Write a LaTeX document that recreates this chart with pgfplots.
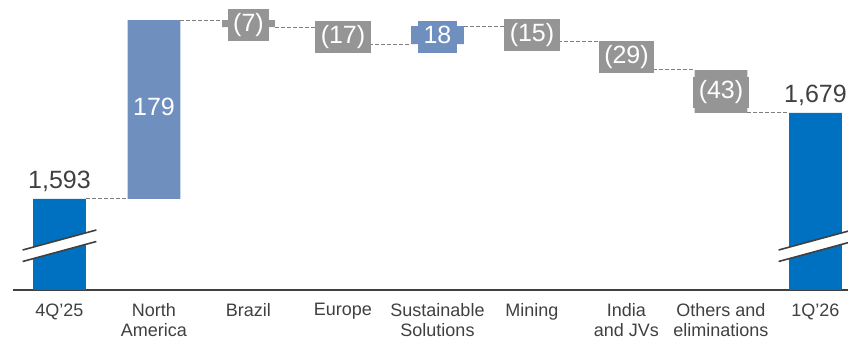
\documentclass[border=0pt]{standalone}
\usepackage{pgfplots}
\pgfplotsset{compat=1.18}
\usepackage{fontspec}
\setmainfont{Liberation Sans}
\definecolor{cBlue}{HTML}{0070C0}
\definecolor{cSteel}{HTML}{6F8FBF}
\definecolor{cGrey}{HTML}{959595}
\definecolor{cText}{HTML}{404040}
\definecolor{cDash}{HTML}{7F7F7F}
\tikzset{vl/.style={font=\fontsize{25bp}{25bp}\selectfont, text height=17.5bp, text depth=5bp, inner xsep=5.5bp, inner ysep=4.5bp},
         gbox/.style={vl, fill=cGrey, text=white},
         sbox/.style={vl, fill=cSteel, text=white}}
\begin{document}
\begin{tikzpicture}
\begin{axis}[
  scale only axis, width=835bp, height=290bp,
  xmin=-0.492, xmax=8.344, ymin=1502, ymax=1792,
  ybar stacked, bar width=0.56,
  clip=false,
  hide y axis,
  axis x line*=bottom,
  x axis line style={cText, line width=2bp},
  major tick length=0pt,
  xtick={0,1,2,3,4,5,6,7,8},
  xticklabels={4Q'25,{North\\America},Brazil,Europe,{Sustainable\\Solutions},Mining,{India\\and JVs},{Others and\\eliminations},1Q'26},
  xticklabel style={font=\fontsize{18bp}{20bp}\selectfont, text=cText, align=center, yshift=-10bp},
  after end axis/.code={
    % connectors
    \draw[cDash, line width=1bp, dash pattern=on 4bp off 2bp] (axis cs:0.28,1593) -- (axis cs:0.72,1593);
    \draw[cDash, line width=1bp, dash pattern=on 4bp off 2bp] (axis cs:1.28,1772) -- (axis cs:1.72,1772);
    \draw[cDash, line width=1bp, dash pattern=on 4bp off 2bp] (axis cs:2.28,1765) -- (axis cs:2.72,1765);
    \draw[cDash, line width=1bp, dash pattern=on 4bp off 2bp] (axis cs:3.28,1748) -- (axis cs:3.72,1748);
    \draw[cDash, line width=1bp, dash pattern=on 4bp off 2bp] (axis cs:4.28,1766) -- (axis cs:4.72,1766);
    \draw[cDash, line width=1bp, dash pattern=on 4bp off 2bp] (axis cs:5.28,1751) -- (axis cs:5.72,1751);
    \draw[cDash, line width=1bp, dash pattern=on 4bp off 2bp] (axis cs:6.28,1722) -- (axis cs:6.72,1722);
    \draw[cDash, line width=1bp, dash pattern=on 4bp off 2bp] (axis cs:7.28,1679) -- (axis cs:7.72,1679);
    % break marks
    \fill[white] (axis cs:-0.39,1530.5) -- (axis cs:0.39,1550.5) -- (axis cs:0.39,1562) -- (axis cs:-0.39,1542) -- cycle;
    \draw[cText, line width=1.6bp] (axis cs:-0.39,1542) -- (axis cs:0.39,1562);
    \draw[cText, line width=1.6bp] (axis cs:-0.39,1530.5) -- (axis cs:0.39,1550.5);
    \fill[white] (axis cs:7.61,1530.5) -- (axis cs:8.39,1550.5) -- (axis cs:8.39,1562) -- (axis cs:7.61,1542) -- cycle;
    \draw[cText, line width=1.6bp] (axis cs:7.61,1542) -- (axis cs:8.39,1562);
    \draw[cText, line width=1.6bp] (axis cs:7.61,1530.5) -- (axis cs:8.39,1550.5);
    % value labels
    \node[vl, text=cText, anchor=south, yshift=1bp] at (axis cs:0,1593) {1,593};
    \node[vl, text=cText, anchor=south, yshift=1bp] at (axis cs:8,1679) {1,679};
    \node[vl, text=white] at (axis cs:1,1683) {179};
    \node[gbox] at (axis cs:2,1767) {(7)};
    \node[gbox] at (axis cs:3,1755) {(17)};
    \node[sbox] at (axis cs:4,1755) {18};
    \node[gbox] at (axis cs:5,1757) {(15)};
    \node[gbox] at (axis cs:6,1735) {(29)};
    \node[gbox] at (axis cs:7,1699.5) {(43)};
    \coordinate (BL) at (rel axis cs:0,0);
    \coordinate (TR) at (rel axis cs:1,1);
  },
]
% invisible base
\addplot[draw=none, fill=none] coordinates {(0,1502) (1,1593) (2,1765) (3,1748) (4,1748) (5,1751) (6,1722) (7,1679) (8,1502)};
% endpoints
\addplot[draw=none, fill=cBlue] coordinates {(0,91) (1,0) (2,0) (3,0) (4,0) (5,0) (6,0) (7,0) (8,177)};
% increases
\addplot[draw=none, fill=cSteel] coordinates {(0,0) (1,179) (2,0) (3,0) (4,18) (5,0) (6,0) (7,0) (8,0)};
% decreases
\addplot[draw=none, fill=cGrey] coordinates {(0,0) (1,0) (2,7) (3,17) (4,0) (5,15) (6,29) (7,43) (8,0)};
\end{axis}
\pgfresetboundingbox
\path[use as bounding box] ([xshift=-13bp,yshift=-49bp]BL) rectangle (TR);
\end{tikzpicture}
\end{document}
